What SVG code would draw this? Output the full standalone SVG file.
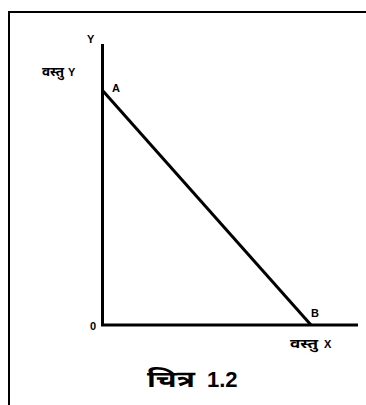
<svg xmlns="http://www.w3.org/2000/svg" width="366" height="405" viewBox="0 0 366 405">
<style>
.lbl{font-family:"Liberation Sans",Arial,sans-serif;font-weight:bold;font-size:11px;fill:#000}
.dev{font-family:"Noto Sans Devanagari","Noto Sans","Liberation Sans",sans-serif;font-weight:bold;font-size:13px;fill:#000}
.cap{font-family:"Noto Sans Devanagari","Noto Sans","Liberation Sans",sans-serif;font-weight:bold;font-size:23px;fill:#000}
.num{font-family:"Liberation Sans",Arial,sans-serif;font-weight:bold;font-size:22px;fill:#000}
.ax{stroke:#000;stroke-width:3;fill:none}
</style>
<rect width="366" height="405" fill="#fff"/>
<rect id="frame" x="9" y="12" width="400" height="420" fill="none" stroke="#000" stroke-width="2"/>
<g id="connectors">
<line class="ax" x1="102.5" y1="44" x2="102.5" y2="325"/>
<line class="ax" x1="101" y1="325" x2="358" y2="325"/>
<line class="ax" x1="103" y1="91" x2="311" y2="325"/>
</g>
<g id="label-y"><text class="lbl" x="87" y="43">Y</text></g>
<g id="label-good-y"><text class="dev" x="42" y="76" textLength="22" lengthAdjust="spacingAndGlyphs">वस्तु</text><text class="lbl" x="68" y="76">Y</text></g>
<g id="point-a"><text class="lbl" x="112" y="92">A</text></g>
<g id="point-b"><text class="lbl" x="311" y="317">B</text></g>
<g id="origin"><text class="lbl" x="90" y="330">0</text></g>
<g id="label-good-x"><text class="dev" x="290" y="348" textLength="28" lengthAdjust="spacingAndGlyphs">वस्तु</text><text class="lbl" x="324" y="348">X</text></g>
<g id="caption"><text class="cap" x="147" y="387" textLength="48" lengthAdjust="spacingAndGlyphs">चित्र</text><text class="num" x="207" y="387">1.2</text></g>
</svg>
